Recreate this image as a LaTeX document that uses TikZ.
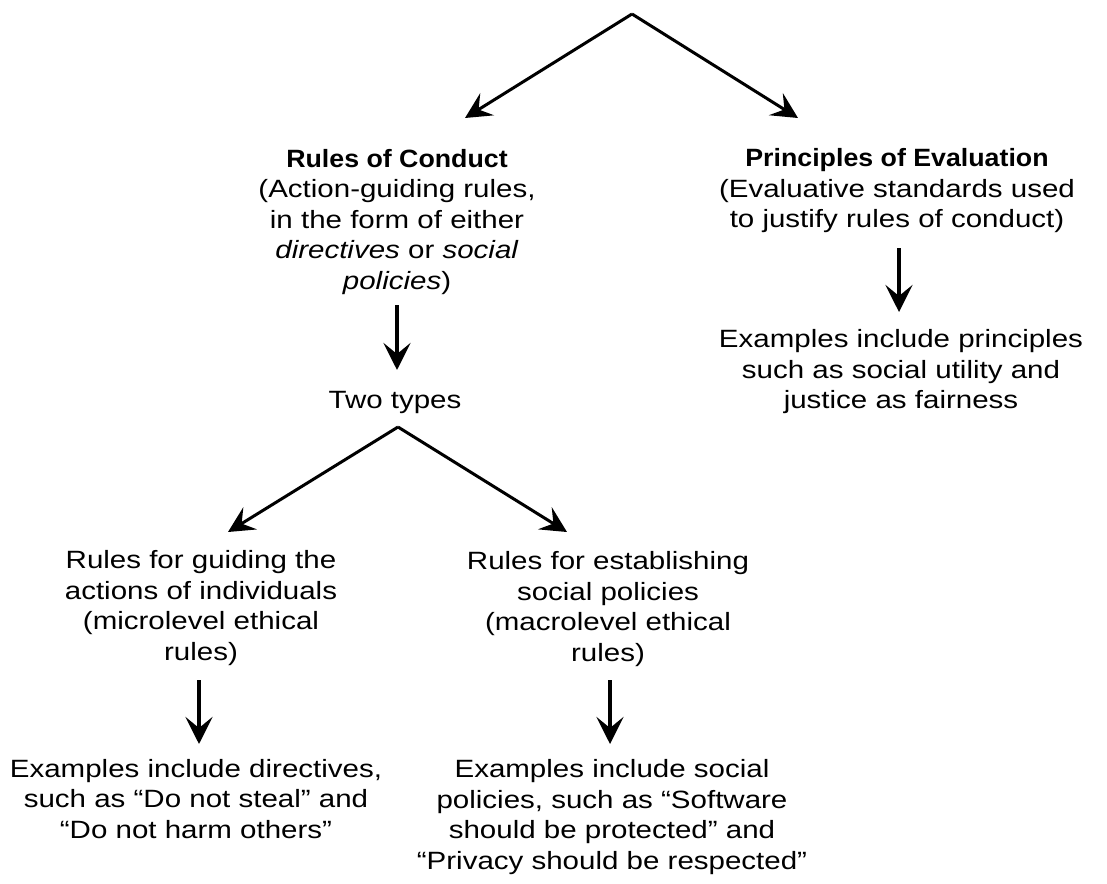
\documentclass[tikz,border=0pt]{standalone}
\usepackage{fontspec}
\usetikzlibrary{arrows.meta}
\newfontfamily\regf{Liberation Sans}[FakeStretch=1.18]
\newfontfamily\boldf{Liberation Sans Bold}[FakeStretch=1.07]
\begin{document}
\begin{tikzpicture}[x=1bp,y=-1bp,
  txt/.style={inner sep=0pt, align=center, font=\regf\fontsize{25bp}{30.5bp}\selectfont},
  diag/.style={line width=3bp, -{Stealth[length=26bp,width=26bp,inset=10bp]}},
  vert/.style={line width=4bp, -{Stealth[length=27bp,width=27bp,inset=11bp]}}]
\useasboundingbox (0,0) rectangle (1107,884);
% text nodes
\node[txt] (conduct) at (397,222) {{\boldf Rules of Conduct}\\(Action-guiding rules,\\in the form of either\\\textit{directives} or \textit{social}\\\textit{policies})};
\node[txt] (principles) at (897,191) {{\boldf Principles of Evaluation}\\(Evaluative standards used\\to justify rules of conduct)};
\node[txt] (prinex) at (901,372) {Examples include principles\\such as social utility and\\justice as fairness};
\node[txt] (two) at (395,402) {Two types};
\node[txt] (micro) at (201,608) {Rules for guiding the\\actions of individuals\\(microlevel ethical\\rules)};
\node[txt] (macro) at (608,609) {Rules for establishing\\social policies\\(macrolevel ethical\\rules)};
\node[txt] (microex) at (196,799) {Examples include directives,\\such as “Do not steal” and\\“Do not harm others”};
\node[txt] (macroex) at (612,817) {Examples include social\\policies, such as “Software\\should be protected” and\\“Privacy should be respected”};
% connector end points
\coordinate (apex) at (632,14);
\coordinate (conductTip) at (465,118);
\coordinate (principlesTip) at (798,118);
\coordinate (conductOut) at (397,305);
\coordinate (twoTip) at (397,370);
\coordinate (principlesOut) at (899,248);
\coordinate (prinexTip) at (899,312);
\coordinate (twoApex) at (398,427);
\coordinate (microTip) at (228,532);
\coordinate (macroTip) at (567,532);
\coordinate (microOut) at (199,680);
\coordinate (microexTip) at (199,744);
\coordinate (macroOut) at (610,680);
\coordinate (macroexTip) at (610,744);
% connectors
\draw[diag] (apex) -- (conductTip);
\draw[diag] (apex) -- (principlesTip);
\draw[vert] (conductOut) -- (twoTip);
\draw[vert] (principlesOut) -- (prinexTip);
\draw[diag] (twoApex) -- (microTip);
\draw[diag] (twoApex) -- (macroTip);
\draw[vert] (microOut) -- (microexTip);
\draw[vert] (macroOut) -- (macroexTip);
\end{tikzpicture}
\end{document}
